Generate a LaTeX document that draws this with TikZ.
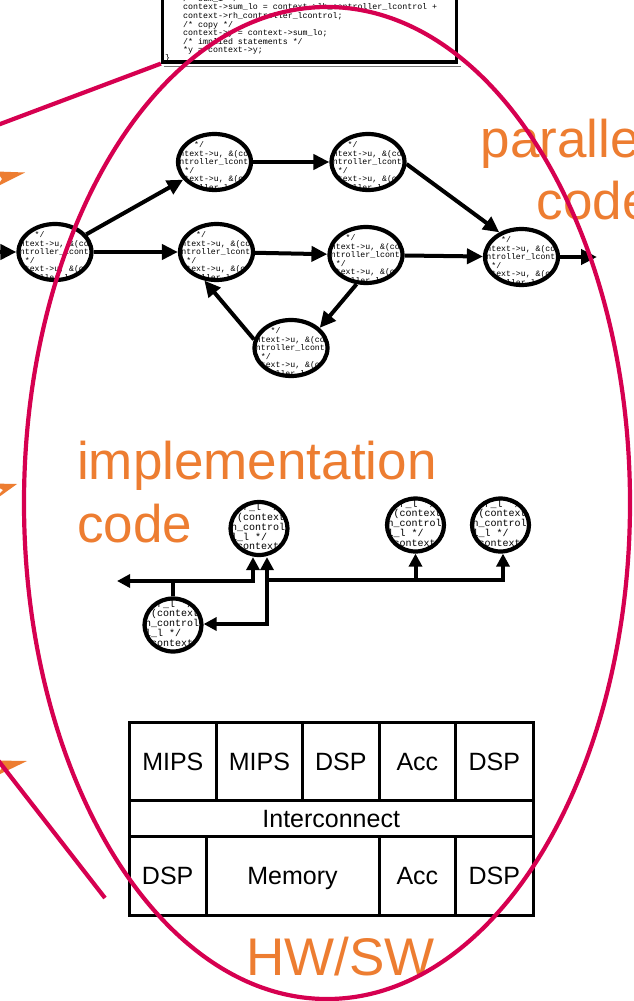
\documentclass[tikz,border=0pt]{standalone}
\usepackage{fontspec}
\setmainfont{Liberation Sans}
\newfontfamily\listingfont{Liberation Mono}
\usetikzlibrary{shapes.geometric,arrows.meta}

\definecolor{loopred}{RGB}{214,0,80}
\definecolor{stageorange}{RGB}{237,125,49}

% code fragments printed inside the task nodes
\newcommand\flowlisting{%
  \begin{tabular}[t]{@{}l@{}}
  \hspace*{24.6pt}*/\\
  context->u, \&(context->\\
  controller\_lcontrol\\
  \hspace*{14.8pt}*/\\
  context->u, \&(context->\\
  controller\_lcontrol
  \end{tabular}}
\newcommand\impllisting{%
  \begin{tabular}[t]{@{}l@{}}
  ller\_l */\\
  \hspace*{12pt}(context->\\
  rh\_controller\\
  ol\_l */\\
  \hspace*{6pt}(context->
  \end{tabular}}
\newcommand\sourcelisting{%
  \begin{tabular}[t]{@{}l@{}}
  /* sum\_1 */\\
  context->sum\_lo = context->lh\_controller\_lcontrol +\\
  context->rh\_controller\_lcontrol;\\
  /* copy */\\
  context->y = context->sum\_lo;\\
  /* implied statements */\\
  \relax*y = context->y;
  \end{tabular}}

\begin{document}
\begin{tikzpicture}[x=1pt,y=-1pt,
  flowtip/.tip={Triangle[length=16pt,width=15pt]},
  bustip/.tip={Triangle[length=13pt,width=13pt]},
  task/.style={ellipse, draw, line width=4.2pt, fill=white, inner sep=0pt,
    minimum width=73pt, minimum height=56pt,
    path picture={\node[rectangle, draw=none, fill=none, anchor=base west,
        inner sep=0pt, text=black,
        font=\listingfont\fontsize{8.2}{8.6}\selectfont]
        at ([shift={(-47,-14.5)}]path picture bounding box.center) {\flowlisting};}},
  implnode/.style={ellipse, draw, line width=4.2pt, fill=white, inner sep=0pt,
    minimum width=57pt, minimum height=53pt,
    path picture={\node[rectangle, draw=none, fill=none, anchor=base west,
        inner sep=0pt, text=black,
        font=\listingfont\fontsize{10}{8.7}\selectfont]
        at ([shift={(-36,-18)}]path picture bounding box.center) {\impllisting};}},
  flowarc/.style={line width=4pt, -flowtip},
  wire/.style={line width=4pt},
  cell/.style={draw, line width=3pt, fill=white, inner sep=0pt,
    font=\fontsize{25}{30}\selectfont, text height=18pt, text depth=0pt},
  stage/.style={text=stageorange, inner sep=0pt, font=\fontsize{53}{63}\selectfont},
  ring/.style={draw=loopred, line width=4.2pt},
]
\fill[white] (0,0) rectangle (634,1001);
\useasboundingbox (0,0) rectangle (634,1001);

% source listing box at the top
\fill[white] (162.5,-30) rectangle (456.5,62);
\node[anchor=base west, inner sep=0pt, text=black,
      font=\listingfont\fontsize{8.3}{8.6}\selectfont] (srctext) at (183,1.2) {\sourcelisting};
\node[anchor=base west, inner sep=0pt, text=black,
      font=\listingfont\fontsize{8.3}{8.6}\selectfont] (srcbrace) at (165,60) {\}};
\node[draw, line width=3.2pt, minimum width=294pt, minimum height=92pt, inner sep=0pt]
      (src) at (309.5,16) {};
\draw[black!55, line width=1pt] ([xshift=3pt,yshift=-2.5pt]src.south west)
      -- ([xshift=3pt,yshift=-2.5pt]src.south east);

% parallel task graph
\node[task] (a) at (55,252) {};
\node[task] (b) at (214.5,162) {};
\node[task] (c) at (368,162) {};
\node[task] (d) at (216.5,252) {};
\node[task] (e) at (366,255) {};
\node[task] (f) at (521.5,257) {};
\node[task] (g) at (291,348) {};
\coordinate (flowin) at (-6,252);
\coordinate (flowout) at (597,257);
\draw[flowarc] (flowin) -- (a);
\draw[flowarc] (a) -- (b);
\draw[flowarc] (a) -- (d);
\draw[flowarc] (b) -- (c);
\draw[flowarc] (c.-3) -- (f.132);
\draw[flowarc] (d) -- (e);
\draw[flowarc] (e) -- (f);
\draw[flowarc] (f) -- (flowout);
\draw[flowarc] (e.252) -- (g.35);
\draw[flowarc] (g.167) -- (d.247);

% implementation code on a shared bus
\node[implnode] (h) at (259,528.5) {};
\node[implnode] (i) at (415.5,525) {};
\node[implnode] (j) at (500.5,525) {};
\node[implnode] (k) at (173,625) {};
\coordinate (busend) at (117,581);
\coordinate (tapk) at (253,581);
\coordinate (feedtop) at (267,580);
\coordinate (feedlow) at (267,624);
\coordinate (tapj) at (503,580);
\draw[wire, bustip-bustip] (busend) -- (tapk) -- (tapk |- h.south);
\draw[wire] (k.north) -- (k.north |- busend);
\draw[wire, bustip-bustip] (feedtop |- h.south) -- (feedlow) -- (k.east |- feedlow);
\draw[wire, -bustip] (feedtop) -- (tapj) -- (tapj |- j.south);
\draw[wire, -bustip] (i.south |- feedtop) -- (i.south);

% platform
\node[cell, minimum width=86.9pt, minimum height=77.3pt] (mips1) at (172.85,761.35) {MIPS};
\node[cell, minimum width=86.2pt, minimum height=77.3pt] (mips2) at (259.4,761.35) {MIPS};
\node[cell, minimum width=76.5pt, minimum height=77.3pt] (dsp1) at (340.75,761.35) {DSP};
\node[cell, minimum width=76.7pt, minimum height=77.3pt] (acc1) at (417.35,761.35) {Acc};
\node[cell, minimum width=77.3pt, minimum height=77.3pt] (dsp2) at (494.35,761.35) {DSP};
\node[cell, minimum width=403.6pt, minimum height=36.7pt] (noc) at (331.2,818.35) {Interconnect};
\node[cell, minimum width=76.6pt, minimum height=78.3pt] (dsp3) at (167.7,875.85) {DSP};
\node[cell, minimum width=173pt, minimum height=78.3pt] (mem) at (292.5,875.85) {Memory};
\node[cell, minimum width=76.7pt, minimum height=78.3pt] (acc2) at (417.35,875.85) {Acc};
\node[cell, minimum width=77.3pt, minimum height=78.3pt] (dsp4) at (494.35,875.85) {DSP};

% stage labels
\node[stage, anchor=base east] (par1) at (652,157) {parallel};
\node[stage, anchor=base east] (par2) at (652,219) {code};
\node[stage, anchor=base west] (impl1) at (77,479) {implementation};
\node[stage, anchor=base west] (impl2) at (77,542) {code};
\node[stage, anchor=base] (hwsw) at (340.7,975) {HW/SW};

% arrow heads entering from the left
\fill[stageorange] (25,172.5) -- (-3,171.5) -- (2,179) -- (-3,186.5) -- cycle;
\fill[stageorange] (17,484) -- (-8,483.5) -- (3,490) -- (-8,502) -- cycle;
\fill[stageorange] (27,761) -- (-3,760.5) -- (2,767.5) -- (-3,775.5) -- cycle;

% mapping loop
\coordinate (redtop) at (-4,125.6);
\coordinate (redlowa) at (-3,759);
\coordinate (redlowb) at (105,898);
\draw[ring] (redtop) -- (src.south west);
\draw[ring] (redlowa) -- (redlowb);
\draw[ring] (327,503) ellipse [x radius=303, y radius=496];
\end{tikzpicture}
\end{document}
